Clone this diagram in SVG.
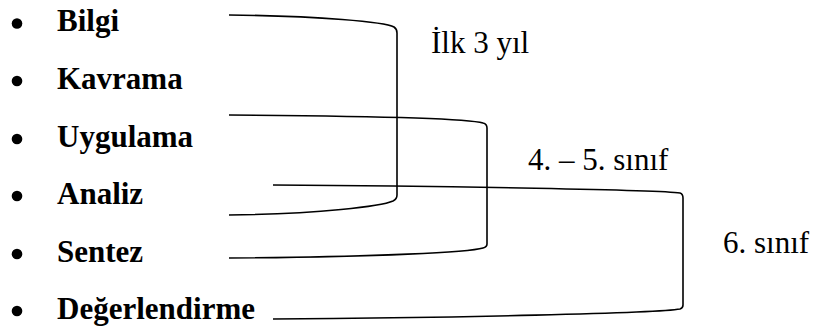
<svg xmlns="http://www.w3.org/2000/svg" width="814" height="329" viewBox="0 0 814 329">
<style>
.item{font-family:'Liberation Serif',Tinos,'Times New Roman',Times,'DejaVu Serif',serif;font-size:31px;font-weight:bold;fill:#000}
.lab{font-family:'Liberation Serif',Tinos,'Times New Roman',Times,'DejaVu Serif',serif;font-size:31px;fill:#000}
.br{fill:none;stroke:#000;stroke-width:1.6}
</style>
<rect width="814" height="329" fill="#fff"/>
<g id="bilgi"><circle cx="17" cy="23.5" r="5.3"/><text class="item" x="57" y="31">Bilgi</text></g>
<g id="kavrama"><circle cx="17" cy="81" r="5.3"/><text class="item" x="57" y="89">Kavrama</text></g>
<g id="uygulama"><circle cx="17" cy="139" r="5.3"/><text class="item" x="57" y="147">Uygulama</text></g>
<g id="analiz"><circle cx="17" cy="196" r="5.3"/><text class="item" x="57" y="204">Analiz</text></g>
<g id="sentez"><circle cx="17" cy="254" r="5.3"/><text class="item" x="57" y="262">Sentez</text></g>
<g id="degerlendirme"><circle cx="17" cy="311" r="5.3"/><text class="item" x="57" y="319">Değerlendirme</text></g>
<g id="ilk3"><text class="lab" x="431" y="53">İlk 3 yıl</text></g>
<g id="sinif45"><text class="lab" x="528" y="170">4. – 5. sınıf</text></g>
<g id="sinif6"><text class="lab" x="723" y="253">6. sınıf</text></g>
<g id="connectors">
<path class="br" d="M229,15 C320,16 385,22 394,27 Q397,29 397,33 L397,195 Q397,199 393,201 C382,206 320,214 229,215"/>
<path class="br" d="M229,115 C380,116 470,119 483,123 Q487,124 487,128 L487,244 Q487,247 483,248 C470,252 380,257 229,258"/>
<path class="br" d="M273,185 C450,186 660,190 680,193 Q683,194 683,198 L683,305 Q683,308 680,309 C660,313 450,318 273,319"/>
</g>
</svg>
